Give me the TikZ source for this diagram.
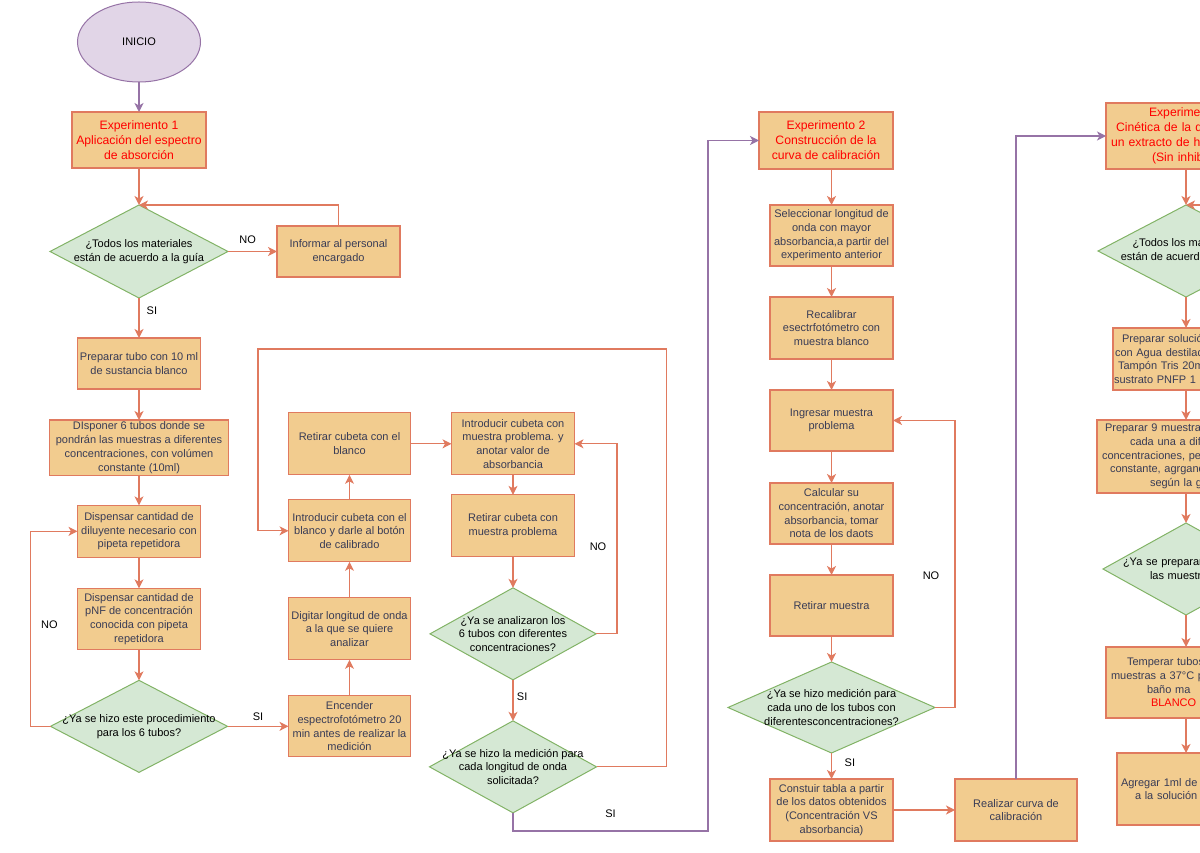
\documentclass[tikz,border=0pt]{standalone}
\usepackage{fontspec}
\setmainfont{Liberation Sans}
\usetikzlibrary{arrows.meta,positioning,shapes.geometric}
\definecolor{boxfill}{HTML}{F2CC8F}
\definecolor{boxline}{HTML}{E07A5F}
\definecolor{boxtext}{HTML}{393C56}
\definecolor{decfill}{HTML}{D5E8D4}
\definecolor{decline}{HTML}{82B366}
\definecolor{inifill}{HTML}{E1D5E7}
\definecolor{iniline}{HTML}{9673A6}
\newcommand\boxfont{\fontsize{11}{13.7}\selectfont}
\newcommand\titlefont{\fontsize{12.2}{15}\selectfont}

\begin{document}
\begin{tikzpicture}[x=1pt,y=1pt,node distance=31pt,
  b/.style={draw=boxline,line width=1.3pt,fill=boxfill,text=boxtext,align=center,font=\boxfont,inner xsep=1pt,inner ysep=2pt,outer sep=0pt,minimum width=123pt},
  t/.style={b,text=red,font=\titlefont},
  cut/.style={b,align=left},
  d/.style={diamond,draw=decline,line width=1pt,fill=decfill,inner sep=0pt,outer sep=0pt},
  dl/.style={align=center,font=\boxfont,text=black},
  s/.style={ellipse,draw=iniline,line width=1pt,fill=inifill,font=\boxfont,outer sep=0pt,minimum width=123pt,minimum height=80pt},
  f/.style={draw=boxline,line width=1.2pt,-{Stealth[length=9pt,width=9pt,inset=2.5pt]}},
  fp/.style={f,draw=iniline},
  lab/.style={font=\boxfont,text=black}]
\useasboundingbox (0,0) rectangle (1200,852);
\clip (0,0) rectangle (1200,852);
\node[s] (inicio) at (139,810) {INICIO};
\node[t,minimum width=134pt,minimum height=56pt,below=30pt of inicio] (exp1) {Experimento 1\\Aplicación del espectro\\de absorción};
\node[d,minimum width=178pt,minimum height=93pt,below=37pt of exp1,label={[dl]center:{¿Todos los materiales\\están de acuerdo a la guía}}] (d1) {};
\node[b,minimum height=51pt,right=49pt of d1] (info) {Informar al personal\\encargado};
\node[b,minimum height=51pt,below=40pt of d1] (prep) {Preparar tubo con 10 ml\\de sustancia blanco};
\node[b,minimum width=179pt,minimum height=52pt,below=of prep] (dispo) {DIsponer 6 tubos donde se\\pondrán las muestras a diferentes\\concentraciones, con volúmen\\constante (10ml)};
\node[b,minimum height=52pt,below=30pt of dispo] (dil) {Dispensar cantidad de\\diluyente necesario con\\pipeta repetidora};
\node[b,minimum height=61pt,below=of dil] (pnf) {Dispensar cantidad de\\pNF de concentración\\conocida con pipeta\\repetidora};
\node[d,minimum width=177pt,minimum height=92pt,below=of pnf,label={[dl]center:{¿Ya se hizo este procedimiento\\para los 6 tubos?}}] (d2) {};
\node[b,minimum width=122pt,minimum height=61pt,right=61pt of d2] (enc) {Encender\\espectrofotómetro 20\\min antes de realizar la\\medición};
\node[b,minimum width=122pt,minimum height=62pt,above=36pt of enc] (dig) {Digitar longitud de onda\\a la que se quiere\\analizar};
\node[b,minimum width=122pt,minimum height=62pt,above=36pt of dig] (introb) {Introducir cubeta con el\\blanco y darle al botón\\de calibrado};
\node[b,minimum width=122pt,minimum height=62pt,above=25pt of introb] (retb) {Retirar cubeta con el\\blanco};
\node[b,minimum height=62pt,right=41pt of retb] (intm) {Introducir cubeta con\\muestra problema. y\\anotar valor de\\absorbancia};
\node[b,minimum height=62pt,below=20pt of intm] (retm) {Retirar cubeta con\\muestra problema};
\node[d,minimum width=166pt,minimum height=92pt,below=of retm,label={[dl]center:{¿Ya se analizaron los\\6 tubos con diferentes\\concentraciones?}}] (d3) {};
\node[d,minimum width=167pt,minimum height=92pt,below=41pt of d3,label={[dl]center:{¿Ya se hizo la medición para\\cada longitud de onda\\solicitada?}}] (d4) {};
\coordinate (top2) at (258,503);
\coordinate (sibot) at (708,21);
\node[t,minimum width=134pt,minimum height=57pt] (exp2) at (826,711.5) {Experimento 2\\Construcción de la\\curva de calibración};
\node[b,minimum height=61pt] (sel) at (831.5,616.5) {Seleccionar longitud de\\onda con mayor\\absorbancia,a partir del\\experimento anterior};
\node[b,minimum height=62pt,below=of sel] (recal) {Recalibrar\\esectrfotómetro con\\muestra blanco};
\node[b,minimum height=61pt,below=of recal] (ingr) {Ingresar muestra\\problema};
\node[b,minimum height=61pt,below=32pt of ingr] (calc) {Calcular su\\concentración, anotar\\absorbancia, tomar\\nota de los daots};
\node[b,minimum height=61pt,below=of calc] (retmu) {Retirar muestra};
\node[d,minimum width=207pt,minimum height=91pt,below=26pt of retmu,label={[dl]center:{¿Ya se hizo medición para\\cada uno de los tubos con\\diferentesconcentraciones?}}] (d5) {};
\node[b,minimum height=62pt,below=26pt of d5] (constr) {Constuir tabla a partir\\de los datos obtenidos\\(Concentración VS\\absorbancia)};
\node[b,minimum width=122pt,minimum height=62pt,right=62pt of constr] (realiz) {Realizar curva de\\calibración};
\node[cut,text=red,font=\titlefont,text width=158pt,minimum height=66pt] (exp3) at (1186,716) {\hspace*{42pt}Experimento 3\\\hspace*{9pt}Cinética de la d\\\hspace*{4pt}un extracto de h\\\hspace*{45pt}(Sin inhib};
\node[d,minimum width=176pt,minimum height=92pt,below=36pt of exp3,label={[dl]center:{¿Todos los materiales\\están de acuerdo a la guía}}] (d6) {};
\coordinate (offr) at ([xshift=40pt]d6.north);
\node[cut,text width=144pt,minimum height=62pt,below=of d6] (sol) {\hspace*{8pt}Preparar solución\\\hspace*{1pt}con Agua destilada\\\hspace*{4pt}Tampón Tris 20mM\\sustrato PNFP 1 mM};
\node[cut,text width=176pt,minimum height=73pt,below=30pt of sol] (nueve) {\hspace*{7pt}Preparar 9 muestras\\\hspace*{32pt}cada una a diferentes\\\hspace*{4pt}concentraciones, pero\\\hspace*{12pt}constante, agrgando\\\hspace*{52pt}según la guía};
\node[d,minimum width=166pt,minimum height=92pt,below=30pt of nueve,label={[dl,align=left,text width=132pt]center:{\hspace*{3pt}¿Ya se prepararon\\\hspace*{30pt}las muestras}}] (d7) {};
\node[cut,text width=158pt,minimum height=71pt,below=32pt of d7] (temp) {\hspace*{20pt}Temperar tubos\\\hspace*{4pt}muestras a 37°C p\\\hspace*{40pt}baño ma\\\hspace*{44pt}\textcolor{red}{BLANCO}};
\node[cut,text width=136pt,minimum height=72pt,below=35pt of temp] (agreg) {\hspace*{3pt}Agregar 1ml de\\\hspace*{17pt}a la solución};
\draw[fp] (inicio) -- (exp1);
\draw[f] (exp1) -- (d1);
\draw[f] (d1) -- node[lab,above=4pt,pos=0.4]{NO} (info);
\draw[f] (info.north) |- (d1.north);
\draw[f] (d1) -- node[lab,right=3.8pt,pos=0.33]{SI} (prep);
\draw[f] (prep) -- (dispo);
\draw[f] (dispo) -- (dil);
\draw[f] (dil) -- (pnf);
\draw[f] (pnf) -- (d2);
\draw[f] (d2.west) -- ++(-20,0) |- node[lab,right=6.8pt,pos=0.26]{NO} (dil.west);
\draw[f] (d2) -- node[lab,above=2pt]{SI} (enc);
\draw[f] (enc) -- (dig);
\draw[f] (dig) -- (introb);
\draw[f] (introb) -- (retb);
\draw[f] (retb) -- (intm);
\draw[f] (intm) -- (retm);
\draw[f] (retm) -- (d3);
\draw[f] (d3.east) -- ++(21,0) |- node[lab,left=6.8pt,pos=0.23]{NO} (intm.east);
\draw[f] (d3) -- node[lab,right=0pt,pos=0.41]{SI} (d4);
\draw[f] (d4.east) -- ++(70,0) |- (top2) |- (introb.west);
\draw[fp] (d4.south) |- node[lab,above=9pt,pos=0.75]{SI} (sibot) |- (exp2.west);
\draw[f] (exp2.south -| sel.north) -- (sel.north);
\draw[f] (sel) -- (recal);
\draw[f] (recal) -- (ingr);
\draw[f] (ingr) -- (calc);
\draw[f] (calc) -- (retmu);
\draw[f] (retmu) -- (d5);
\draw[f] (d5.east) -- ++(20,0) |- node[lab,left=11.8pt,pos=0.23]{NO} (ingr.east);
\draw[f] (d5) -- node[lab,right=9.3pt,pos=0.38]{SI} (constr);
\draw[f] (constr) -- (realiz);
\draw[fp] (realiz.north) |- (exp3.west);
\draw[f] (exp3) -- (d6);
\draw[f] (offr) -- (d6.north);
\draw[f] (d6) -- (sol);
\draw[f] (sol) -- (nueve);
\draw[f] (nueve) -- (d7);
\draw[f] (d7) -- (temp);
\draw[f] (temp) -- (agreg);
\end{tikzpicture}
\end{document}
